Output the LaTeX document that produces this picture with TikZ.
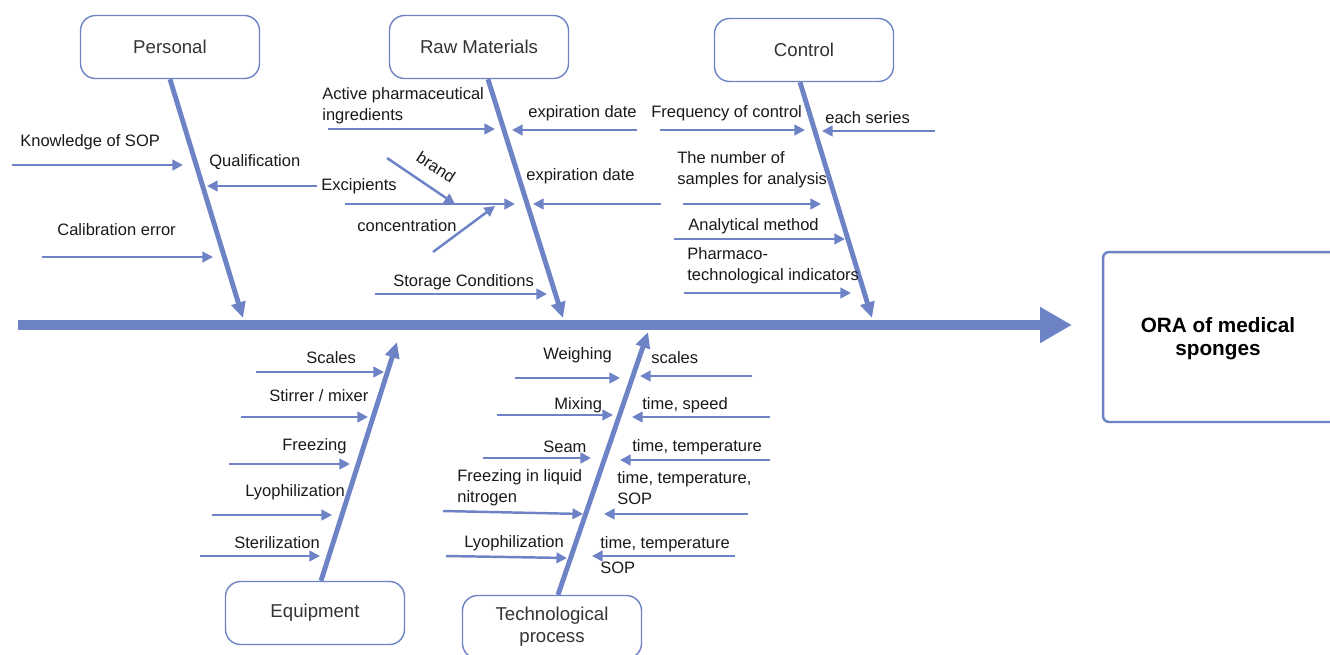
\documentclass[tikz,border=0pt]{standalone}
\usepackage{fontspec}
\setmainfont{Liberation Sans}
\usetikzlibrary{arrows.meta,positioning}
\definecolor{fishblue}{RGB}{110,130,198}

\begin{document}
\begin{tikzpicture}[
    x=0.02cm, y=-0.02cm,
    every node/.style={font=\fontsize{9.4}{12}\selectfont, text=black!90},
    cat_node/.style={draw=fishblue, line width=0.8pt, rounded corners=0.3cm, minimum width=3.58cm, minimum height=1.26cm, align=center, font=\fontsize{10.6}{12.5}\selectfont, text=black!80},
    result_node/.style={draw=fishblue, line width=1.4pt, rounded corners=0.12cm, minimum width=4.8cm, minimum height=3.4cm, align=center, font=\fontsize{11.8}{13}\selectfont\bfseries, text=black},
    cause/.style={anchor=west, inner sep=0pt, align=left},
    spine/.style={draw=fishblue, line width=5.7pt, -{Triangle[length=0.64cm,width=0.68cm]}},
    bone/.style={draw=fishblue, line width=2.8pt, -{Triangle[length=9pt,width=8pt]}},
    sub/.style={draw=fishblue, line width=1.4pt, -{Triangle[length=6pt,width=6pt]}}
]
\useasboundingbox (0,0) rectangle (1330,654);

% Spine and result
\coordinate (head) at (1072,325);
\coordinate (tail) at (18,325);
\draw[spine] (tail) -- (head);
\node[result_node] (result) at (1223,337) {};
\node[font=\fontsize{11.8}{13}\selectfont\bfseries, align=center, text=black] (resultlbl) at (1218,339) {ORA of medical\\sponges};

% Categories
\node[cat_node] (personal) at (170,47) {Personal};
\node[cat_node] (raw) at (479,47) {Raw Materials};
\node[cat_node] (control) at (804,50) {Control};
\node[cat_node] (equip) at (315,613) {Equipment};
\node[cat_node] (tech) at (552,627) {Technological\\process};

\coordinate (personal-tip) at (243,318);
\coordinate (raw-tip) at (563,318);
\coordinate (control-tip) at (872,318);
\coordinate (equip-tip) at (397,342);
\coordinate (tech-tip) at (648,332);

\draw[bone] (personal.south) -- (personal-tip);
\draw[bone] ([xshift=0.18cm]raw.south) -- (raw-tip);
\draw[bone] ([xshift=-0.08cm]control.south) -- (control-tip);
\draw[bone] ([xshift=0.12cm]equip.north) -- (equip-tip);
\draw[bone] ([xshift=0.12cm]tech.north) -- (tech-tip);

% Causes
\foreach \n/\xa/\ya/\xb/\yb in {
    kn/12/165/183/165, cal/42/257/213/257,
    api/328/129/495/129, expa/637/130/512/130, exc/345/204/515/204,
    brand/387/158/455/204, conc/433/252/495/206, expb/661/204/533/204,
    stor/375/294/547/294,
    freq/660/130/805/130, each/935/131/822/131, num/683/204/821/204,
    ana/674/239/845/239, phar/684/293/851/293,
    sca/256/372/384/372, stir/241/417/368/417, frz/229/464/350/464,
    lyoa/212/515/332/515, ster/200/556/320/556,
    wei/515/378/620/378, scb/752/376/640/376, mix/497/415/613/415,
    tsp/770/417/632/417, seam/483/458/591/458, tte/770/460/620/460,
    fln/443/511/583/514, ttes/748/514/604/514, lyob/446/556/567/558,
    ttsop/735/556/592/556} {
    \coordinate (\n-s) at (\xa,\ya);
    \coordinate (\n-e) at (\xb,\yb);
    \draw[sub] (\n-s) -- (\n-e);
}

% Personal
\node[cause] (knowledge) at (20,142) {Knowledge of SOP};
\node[cause] (qualif) at (209,162) {Qualification};
\node[cause] (calib) at (57,230) {Calibration error};
\node[cause] (excip) at (321,186) {Excipients};
\coordinate (qualif-e) at (207,186);
\draw[sub] ([xshift=-2pt]excip.west) -- (qualif-e);

% Raw materials
\node[cause] (apilbl) at (322,106) {Active pharmaceutical\\ingredients};
\node[cause] (expalbl) at (528,113) {expiration date};
\node[rotate=-33, inner sep=0pt] (brandlbl) at (436,167) {brand};
\node[cause] (conclbl) at (357,226) {concentration};
\node[cause] (expblbl) at (526,176) {expiration date};
\node[cause] (storlbl) at (393,282) {Storage Conditions};

% Control
\node[cause] (freqlbl) at (651,113) {Frequency of control};
\node[cause] (eachlbl) at (825,118) {each series};
\node[cause] (numlbl) at (677,170) {The number of\\samples for analysis};
\node[cause] (analbl) at (688,226) {Analytical method};
\node[cause] (pharlbl) at (687,266) {Pharmaco-\\technological indicators};

% Equipment
\node[cause] (scalbl) at (306,358) {Scales};
\node[cause] (stirlbl) at (269,396) {Stirrer / mixer};
\node[cause] (frzlbl) at (282,446) {Freezing};
\node[cause] (lyoalbl) at (245,492) {Lyophilization};
\node[cause] (sterlbl) at (234,543) {Sterilization};

% Technological process
\node[cause] (weilbl) at (543,355) {Weighing};
\node[cause] (scblbl) at (651,358) {scales};
\node[cause] (mixlbl) at (554,405) {Mixing};
\node[cause] (tsplbl) at (642,405) {time, speed};
\node[cause] (seamlbl) at (543,447) {Seam};
\node[cause] (ttelbl) at (632,447) {time, temperature};
\node[cause] (flnlbl) at (457,488) {Freezing in liquid\\nitrogen};
\node[cause] (tteslbl) at (617,488) {time, temperature,\\SOP};
\node[cause] (lyoblbl) at (464,543) {Lyophilization};
\node[cause, anchor=north west] (ttsoplbl) at (600,536) {time, temperature\\[2.2pt]SOP};

\end{tikzpicture}
\end{document}
